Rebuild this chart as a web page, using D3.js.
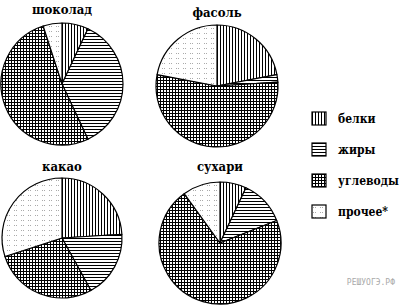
<!DOCTYPE html>
<html>
<head>
<meta charset="utf-8">
<script src="https://cdn.jsdelivr.net/npm/d3@7"></script>
<style>
  body { margin: 0; background: #fff; }
</style>
</head>
<body>
<div class="chart"></div>
<script>
const categories = ['белки', 'жиры', 'углеводы', 'прочее*']
const foods = ['шоколад', 'фасоль', 'какао', 'сухари']
const chocolate = [7, 36, 52, 5]
const beans = [22, 2, 54, 22]
const cocoa = [24, 18, 28, 30]
const rusks = [7, 12, 71, 10]
const seriesValues = [chocolate, beans, cocoa, rusks]

const W = 400
const H = 307
const SERIF = "'DejaVu Serif Condensed', 'DejaVu Serif', serif"
// pie layout: centre and radius for each food, title baseline
const layout = [
  {cx: 62, cy: 84, r: 61, ty: 14},
  {cx: 217, cy: 86, r: 61, ty: 17},
  {cx: 62, cy: 238, r: 60, ty: 171},
  {cx: 220, cy: 243, r: 61, ty: 171}
]

const svg = d3.select('.chart').append('svg')
  .attr('width', W)
  .attr('height', H)

const defs = svg.append('defs')

function linePattern (id, vert, horiz) {
  const p = defs.append('pattern')
    .attr('id', id)
    .attr('patternUnits', 'userSpaceOnUse')
    .attr('width', 3)
    .attr('height', 3)
  p.append('rect').attr('width', 3).attr('height', 3).attr('fill', '#fff')
  if (vert) p.append('line').attr('x1', 0.5).attr('x2', 0.5).attr('y1', 0).attr('y2', 3).attr('stroke', '#000').attr('stroke-width', 1)
  if (horiz) p.append('line').attr('x1', 0).attr('x2', 3).attr('y1', 0.5).attr('y2', 0.5).attr('stroke', '#000').attr('stroke-width', 1)
}

linePattern('p-prot', true, false)
linePattern('p-fat', false, true)
linePattern('p-carb', true, true)

const dots = defs.append('pattern')
  .attr('id', 'p-other')
  .attr('patternUnits', 'userSpaceOnUse')
  .attr('width', 7)
  .attr('height', 5)
dots.append('rect').attr('width', 7).attr('height', 5).attr('fill', '#fff')
dots.append('rect').attr('x', 1).attr('y', 2).attr('width', 1).attr('height', 1).attr('fill', '#aaa')
dots.append('rect').attr('x', 3).attr('y', 2).attr('width', 1).attr('height', 1).attr('fill', '#aaa')

const fills = d3.scaleOrdinal()
  .domain(categories)
  .range(['url(#p-prot)', 'url(#p-fat)', 'url(#p-carb)', 'url(#p-other)'])

const pie = d3.pie().sort(null)

foods.forEach((name, i) => {
  const pos = layout[i]
  const arc = d3.arc().innerRadius(0).outerRadius(pos.r)
  const g = svg.append('g').attr('transform', `translate(${pos.cx},${pos.cy})`)

  g.selectAll('path')
    .data(pie(seriesValues[i]))
    .join('path')
    .attr('d', arc)
    .attr('fill', (d, j) => fills(categories[j]))
    .attr('stroke', '#000')
    .attr('stroke-width', 1.2)
    .attr('stroke-linejoin', 'round')

  svg.append('text')
    .attr('x', pos.cx)
    .attr('y', pos.ty)
    .attr('text-anchor', 'middle')
    .attr('font-family', SERIF)
    .attr('font-size', 13)
    .attr('font-weight', 'bold')
    .text(name)
})

// legend
const legend = svg.append('g').attr('transform', 'translate(312,112)')
const item = legend.selectAll('g')
  .data(categories)
  .join('g')
  .attr('transform', (d, i) => `translate(0,${i * 31})`)

item.append('rect')
  .attr('width', 14)
  .attr('height', 13)
  .attr('fill', d => fills(d))
  .attr('stroke', '#000')
  .attr('stroke-width', 1.2)

item.append('text')
  .attr('x', 26)
  .attr('y', 11)
  .attr('font-family', SERIF)
  .attr('font-size', 12)
  .attr('font-weight', 'bold')
  .text(d => d)

svg.append('text')
  .attr('x', 395)
  .attr('y', 285)
  .attr('text-anchor', 'end')
  .attr('font-size', 8)
  .attr('font-family', "'DejaVu Sans Mono', monospace")
  .attr('fill', '#aaa')
  .text('РЕШУОГЭ.РФ')
</script>
</body>
</html>
